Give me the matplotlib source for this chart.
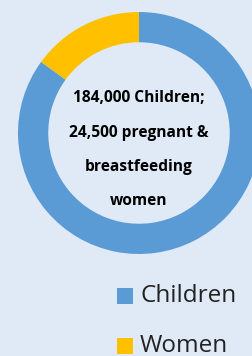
import matplotlib
matplotlib.use("Agg")
import matplotlib.pyplot as plt
from matplotlib.patches import Rectangle

categories = ["Children", "Women"]
shares = [85, 15]
colors = ["#5b9bd5", "#ffc000"]
center_lines = ["184,000 Children;", "24,500 pregnant &", "breastfeeding", "women"]

bg = "#dfeaf6"
fig = plt.figure(figsize=(2.52, 3.56), dpi=100, facecolor=bg)
W, H = 252, 356
cx, cy, R = 139, 133, 121
ax = fig.add_axes([(cx - R) / W, 1 - (cy + R) / H, 2 * R / W, 2 * R / H])
ax.set_facecolor(bg)
ax.pie(shares, colors=colors, startangle=90, counterclock=False,
       radius=1, wedgeprops=dict(width=0.25, linewidth=0))
ax.set_xlim(-1, 1)
ax.set_ylim(-1, 1)
ax.set_aspect("equal")
ax.axis("off")

ys = [98, 133, 167, 201]
for t, y in zip(center_lines, ys):
    fig.text(cx / W, 1 - y / H, t, ha="center", va="center",
             fontsize=11.2, fontweight="bold", family="Open Sans", color="#000000")

leg_y = [296, 346]
for c, col, y in zip(categories, colors, leg_y):
    fig.patches.append(Rectangle((117 / W, 1 - (y + 8) / H), 16 / W, 16 / H,
                                 transform=fig.transFigure, facecolor=col,
                                 edgecolor="none"))
    fig.text(140 / W, 1 - y / H, c, ha="left", va="center",
             fontsize=17.5, family="Open Sans", color="#222222")

fig.savefig("out.png", dpi=100, facecolor=bg)
